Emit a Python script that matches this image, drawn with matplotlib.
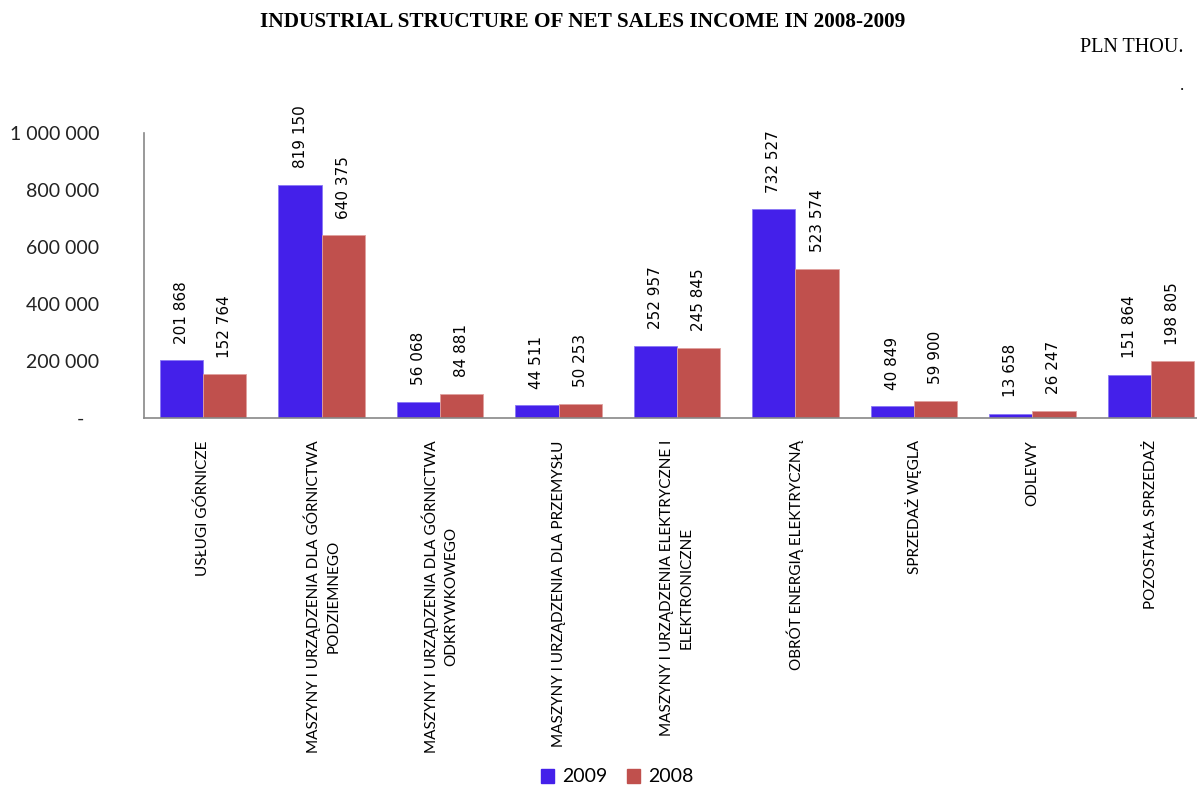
import matplotlib
matplotlib.use("Agg")

import matplotlib.pyplot as plt
import numpy as np
from matplotlib.patches import Patch

categories = [
    "USŁUGI GÓRNICZE",
    "MASZYNY I URZĄDZENIA DLA GÓRNICTWA\nPODZIEMNEGO",
    "MASZYNY I URZĄDZENIA DLA GÓRNICTWA\nODKRYWKOWEGO",
    "MASZYNY I URZĄDZENIA DLA PRZEMYSŁU",
    "MASZYNY I URZĄDZENIA ELEKTRYCZNE I\nELEKTRONICZNE",
    "OBRÓT ENERGIĄ ELEKTRYCZNĄ",
    "SPRZEDAŻ WĘGLA",
    "ODLEWY",
    "POZOSTAŁA SPRZEDAŻ",
]
sales_2009 = [201868, 819150, 56068, 44511, 252957, 732527, 40849, 13658, 151864]
sales_2008 = [152764, 640375, 84881, 50253, 245845, 523574, 59900, 26247, 198805]
y_ticks = [0, 200000, 400000, 600000, 800000, 1000000]
y_tick_labels = ["-   ", "200 000", "400 000", "600 000", "800 000", "1 000 000"]

BLUE = "#4420EA"
RED = "#C0504D"


def fmt(v):
    return f"{v:,}".replace(",", " ")


def main():
    fig = plt.figure(figsize=(11.97, 7.87), dpi=100)
    ax = fig.add_axes([144 / 1197, 1 - 418 / 787, 1066 / 1197, 285 / 787])

    x = np.arange(len(categories))
    w = 0.365
    b1 = ax.bar(x - w / 2, sales_2009, w, color=BLUE, edgecolor="#8A78F5", linewidth=0.6)
    b2 = ax.bar(x + w / 2, sales_2008, w, color=RED, edgecolor="#E0A09E", linewidth=0.6)

    for bars, vals in ((b1, sales_2009), (b2, sales_2008)):
        for rect, v in zip(bars, vals):
            ax.annotate(
                fmt(v),
                (rect.get_x() + rect.get_width() / 2, v),
                xytext=(0, 12),
                textcoords="offset points",
                rotation=90,
                ha="center",
                va="bottom",
                fontsize=11,
                family="DejaVu Sans",
                annotation_clip=False,
            )

    ax.set_xlim(-0.5, len(categories) - 0.5)
    ax.set_ylim(0, 1000000)
    ax.set_yticks(y_ticks)
    ax.set_yticklabels(y_tick_labels, fontsize=14, family="Lato", color="#222222")
    ax.set_xticks(x)
    ax.set_xticklabels(categories, rotation=90, fontsize=11, family="Lato",
                       ha="center", va="top", multialignment="center", linespacing=1.5)
    ax.tick_params(axis="x", length=0, pad=16)
    ax.tick_params(axis="y", length=0, pad=32)

    for s in ("top", "right"):
        ax.spines[s].set_visible(False)
    for s in ("left", "bottom"):
        ax.spines[s].set_color("#888888")
        ax.spines[s].set_linewidth(1.2)

    fig.text(583 / 1197, 1 - 22 / 787, "INDUSTRIAL STRUCTURE OF NET SALES INCOME IN 2008-2009",
             ha="center", va="center", fontsize=15.3, fontweight="bold", family="Liberation Serif")
    fig.text(1184 / 1197, 1 - 48 / 787, "PLN THOU.", ha="right", va="center",
             fontsize=14.5, family="Liberation Serif")
    fig.text(1184 / 1197, 1 - 86 / 787, ".", ha="right", va="center",
             fontsize=12, family="Liberation Serif")

    handles = [Patch(color=BLUE, label="2009"), Patch(color=RED, label="2008")]
    fig.legend(handles=handles, loc="center", bbox_to_anchor=(617 / 1197, 1 - 777 / 787),
               ncol=2, frameon=False, prop={"family": "Lato", "size": 14},
               handlelength=0.7, handleheight=0.7, handletextpad=0.4, columnspacing=1.0)

    fig.savefig("out.png", dpi=100)


if __name__ == "__main__":
    main()
